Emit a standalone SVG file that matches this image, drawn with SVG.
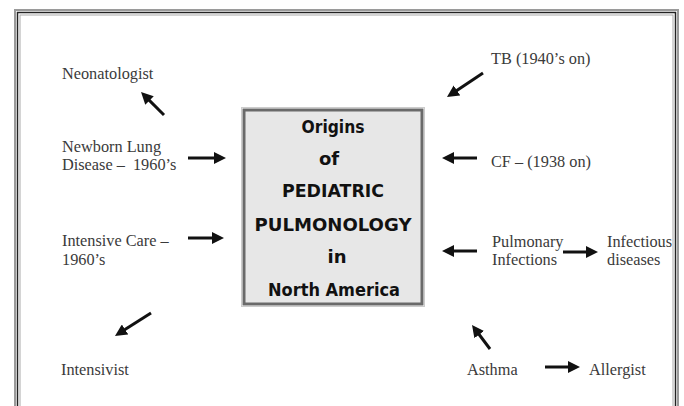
<svg xmlns="http://www.w3.org/2000/svg" width="684" height="406" viewBox="0 0 684 406">
<defs>
<style>
.lbl{font-family:"Liberation Serif","Times New Roman",serif;font-size:16.3px;fill:#3a3a3a;white-space:pre}
.ttl{font-family:"DejaVu Sans","Lato",sans-serif;font-weight:700;font-size:18px;fill:#111;text-anchor:middle}
.arr{stroke:#111;stroke-width:3;fill:none;marker-end:url(#ah)}
</style>
<marker id="ah" viewBox="0 0 12 12" refX="2" refY="6" markerWidth="12" markerHeight="12" markerUnits="userSpaceOnUse" orient="auto">
<path d="M0,0 L12,6 L0,12 z" fill="#111"/>
</marker>
</defs>
<rect width="684" height="406" fill="#fff"/>
<g id="frame" fill="none">
<rect x="15" y="10" width="663" height="420" stroke="#9a9a9a" stroke-width="2"/>
<rect x="17.5" y="12.5" width="658" height="420" stroke="#222" stroke-width="1.5"/>
<rect x="20" y="15" width="653" height="420" stroke="#aaa" stroke-width="1"/>
</g>
<g id="center">
<rect x="244" y="110" width="178" height="194" fill="#e7e7e7" stroke="#6a6a6a" stroke-width="3"/>
<rect x="241.5" y="107.5" width="183" height="199" fill="none" stroke="#ccc" stroke-width="1"/>
<text class="ttl" x="333" y="133" textLength="63" lengthAdjust="spacingAndGlyphs">Origins</text>
<text class="ttl" x="329" y="165">of</text>
<text class="ttl" x="333" y="197" textLength="102" lengthAdjust="spacingAndGlyphs">PEDIATRIC</text>
<text class="ttl" x="333" y="231" textLength="157" lengthAdjust="spacingAndGlyphs">PULMONOLOGY</text>
<text class="ttl" x="337" y="263">in</text>
<text class="ttl" x="334" y="296" textLength="132" lengthAdjust="spacingAndGlyphs">North America</text>
</g>
<g id="neonatologist"><text class="lbl" x="62" y="79">Neonatologist</text></g>
<g id="newborn"><text class="lbl" x="62" y="152">Newborn Lung</text><text class="lbl" x="62" y="170" xml:space="preserve">Disease –  1960’s</text></g>
<g id="intensive"><text class="lbl" x="62" y="246">Intensive Care –</text><text class="lbl" x="62" y="265">1960’s</text></g>
<g id="intensivist"><text class="lbl" x="61" y="375">Intensivist</text></g>
<g id="tb"><text class="lbl" x="491" y="64">TB (1940’s on)</text></g>
<g id="cf"><text class="lbl" x="491" y="167">CF – (1938 on)</text></g>
<g id="pulmonary"><text class="lbl" x="492" y="247">Pulmonary</text><text class="lbl" x="492" y="265">Infections</text></g>
<g id="infectious"><text class="lbl" x="607" y="247">Infectious</text><text class="lbl" x="607" y="265">diseases</text></g>
<g id="asthma"><text class="lbl" x="467" y="375">Asthma</text></g>
<g id="allergist"><text class="lbl" x="589" y="375">Allergist</text></g>
<g id="connectors">
<line class="arr" x1="164" y1="115" x2="148.1" y2="99.1"/>
<line class="arr" x1="188" y1="158" x2="216" y2="158"/>
<line class="arr" x1="188" y1="238" x2="214" y2="238"/>
<line class="arr" x1="151" y1="313" x2="123.4" y2="330.6"/>
<line class="arr" x1="483" y1="73" x2="455.3" y2="91.5"/>
<line class="arr" x1="477" y1="158" x2="452" y2="158"/>
<line class="arr" x1="477" y1="251" x2="452" y2="251"/>
<line class="arr" x1="563" y1="252" x2="588" y2="252"/>
<line class="arr" x1="490" y1="349" x2="478" y2="333"/>
<line class="arr" x1="545" y1="367" x2="570" y2="367"/>
</g>
</svg>
